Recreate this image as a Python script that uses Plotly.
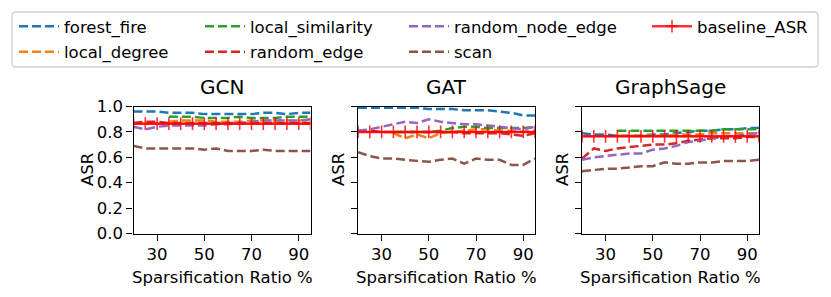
import plotly.graph_objects as go

# ---------------- data ----------------
ratios = [20, 25, 30, 35, 40, 45, 50, 55, 60, 65, 70, 75, 80, 85, 90, 95]
local_ratios = [35, 40, 45, 50, 55, 60, 65, 70, 75, 80, 85, 90, 95]
models = ["GCN", "GAT", "GraphSage"]

forest_fire = {
    "GCN": [0.96, 0.96, 0.96, 0.95, 0.95, 0.95, 0.94, 0.94, 0.94, 0.94, 0.94, 0.95, 0.95, 0.94, 0.95, 0.95],
    "GAT": [0.99, 0.99, 0.99, 0.99, 0.99, 0.99, 0.98, 0.98, 0.98, 0.97, 0.97, 0.97, 0.96, 0.95, 0.93, 0.93],
    "GraphSage": [0.79, 0.78, 0.78, 0.77, 0.77, 0.77, 0.78, 0.78, 0.79, 0.80, 0.81, 0.81, 0.82, 0.82, 0.83, 0.83],
}
local_degree = {
    "GCN": [0.88, 0.89, 0.89, 0.89, 0.88, 0.88, 0.88, 0.89, 0.89, 0.89, 0.89, 0.89, 0.89],
    "GAT": [0.79, 0.75, 0.78, 0.75, 0.79, 0.80, 0.81, 0.82, 0.82, 0.81, 0.81, 0.80, 0.81],
    "GraphSage": [0.77, 0.77, 0.77, 0.77, 0.77, 0.78, 0.78, 0.78, 0.79, 0.79, 0.79, 0.79, 0.79],
}
local_similarity = {
    "GCN": [0.92, 0.92, 0.92, 0.91, 0.91, 0.91, 0.92, 0.91, 0.91, 0.91, 0.92, 0.92, 0.92],
    "GAT": [0.80, 0.80, 0.80, 0.80, 0.81, 0.83, 0.84, 0.84, 0.83, 0.83, 0.83, 0.83, 0.84],
    "GraphSage": [0.81, 0.81, 0.81, 0.81, 0.81, 0.81, 0.81, 0.81, 0.81, 0.82, 0.82, 0.82, 0.82],
}
random_edge = {
    "GCN": [0.87, 0.88, 0.88, 0.87, 0.87, 0.87, 0.87, 0.87, 0.87, 0.87, 0.87, 0.87, 0.87, 0.87, 0.87, 0.87],
    "GAT": [0.81, 0.81, 0.80, 0.80, 0.80, 0.80, 0.80, 0.80, 0.80, 0.79, 0.79, 0.79, 0.79, 0.78, 0.77, 0.79],
    "GraphSage": [0.59, 0.67, 0.65, 0.67, 0.68, 0.69, 0.70, 0.70, 0.71, 0.73, 0.74, 0.75, 0.75, 0.75, 0.76, 0.76],
}
random_node_edge = {
    "GCN": [0.84, 0.82, 0.84, 0.85, 0.85, 0.85, 0.85, 0.86, 0.86, 0.87, 0.88, 0.89, 0.89, 0.89, 0.89, 0.90],
    "GAT": [0.81, 0.82, 0.84, 0.86, 0.88, 0.87, 0.90, 0.88, 0.87, 0.86, 0.86, 0.85, 0.84, 0.83, 0.82, 0.84],
    "GraphSage": [0.58, 0.60, 0.61, 0.62, 0.63, 0.63, 0.66, 0.67, 0.69, 0.72, 0.73, 0.75, 0.76, 0.77, 0.78, 0.79],
}
scan = {
    "GCN": [0.69, 0.67, 0.67, 0.67, 0.67, 0.67, 0.66, 0.67, 0.65, 0.65, 0.65, 0.66, 0.65, 0.65, 0.65, 0.65],
    "GAT": [0.64, 0.61, 0.59, 0.59, 0.58, 0.57, 0.565, 0.58, 0.59, 0.55, 0.59, 0.58, 0.58, 0.54, 0.54, 0.59],
    "GraphSage": [0.49, 0.50, 0.51, 0.51, 0.52, 0.53, 0.53, 0.56, 0.55, 0.55, 0.56, 0.56, 0.57, 0.57, 0.57, 0.58],
}
baseline_ASR = {
    "GCN": [0.865] * 16,
    "GAT": [0.80] * 16,
    "GraphSage": [0.765] * 16,
}

x_ticks = [30, 50, 70, 90]
y_ticks = [0.0, 0.2, 0.4, 0.6, 0.8, 1.0]
y_ticklabels = ["0.0", "0.2", "0.4", "0.6", "0.8", "1.0"]

series = [
    ("forest_fire", forest_fire, ratios, "#1f77b4", "legend"),
    ("local_degree", local_degree, local_ratios, "#ff7f0e", "legend"),
    ("local_similarity", local_similarity, local_ratios, "#2ca02c", "legend2"),
    ("random_edge", random_edge, ratios, "#d62728", "legend2"),
    ("random_node_edge", random_node_edge, ratios, "#9467bd", "legend3"),
    ("scan", scan, ratios, "#8c564b", "legend3"),
]

# ---------------- layout geometry (window pixels) ----------------
WIN_W, WIN_H = 831, 297
OFF = 8  # default page body margin around the plot div
W, H = WIN_W - OFF, WIN_H - OFF
FONT = "DejaVu Sans"
x_dom_px = [(133.5, 310.5), (358.0, 535.0), (582.0, 759.0)]
y_top_px, y_bot_px = 106.5, 233.5


def px_x(v):
    return (v - OFF) / W


def px_y(v):
    return 1 - (v - OFF) / H


fig = go.Figure()

for i, m in enumerate(models):
    ax = "" if i == 0 else str(i + 1)
    for name, data, xs, color, leg in series:
        fig.add_trace(go.Scatter(
            x=xs, y=data[m], mode="lines", name=name,
            line=dict(color=color, width=2.5, dash="9px,4px"),
            xaxis="x" + ax, yaxis="y" + ax,
            legend=leg, legendgroup=name, showlegend=(i == 0),
        ))
    fig.add_trace(go.Scatter(
        x=ratios, y=baseline_ASR[m], mode="lines+markers", name="baseline_ASR",
        line=dict(color="rgba(255,0,0,0.8)", width=2.5),
        marker=dict(symbol="cross-thin", size=9, line=dict(color="rgba(255,0,0,0.8)", width=1.6)),
        xaxis="x" + ax, yaxis="y" + ax,
        legend="legend4", legendgroup="baseline_ASR", showlegend=(i == 0),
    ))

axis_common = dict(showline=True, linecolor="black", linewidth=1.3, mirror=True,
                   ticks="outside", ticklen=6, tickwidth=1.3, tickcolor="black",
                   showgrid=False, zeroline=False,
                   tickfont=dict(family=FONT, size=16.5, color="black"))

layout = dict(
    width=W, height=H,
    margin=dict(l=0, r=0, t=0, b=0, autoexpand=False),
    paper_bgcolor="white", plot_bgcolor="white",
    font=dict(family=FONT, size=16.5, color="black"),
)

annotations = []
for i, m in enumerate(models):
    ax = "" if i == 0 else str(i + 1)
    x0, x1 = x_dom_px[i]
    layout["xaxis" + ax] = dict(axis_common, domain=[px_x(x0), px_x(x1)], range=[20, 95],
                                tickvals=x_ticks, anchor="y" + ax)
    layout["yaxis" + ax] = dict(axis_common, domain=[px_y(y_bot_px), px_y(y_top_px)], range=[0, 1],
                                tickvals=y_ticks, ticktext=y_ticklabels,
                                showticklabels=(i == 0), anchor="x" + ax)
    cx = (x0 + x1) / 2
    annotations.append(dict(text=m, x=px_x(cx), y=px_y(101), xref="paper", yref="paper",
                            xanchor="center", yanchor="bottom", showarrow=False,
                            font=dict(family=FONT, size=20, color="black")))
    annotations.append(dict(text="Sparsification Ratio %", x=px_x(cx), y=px_y(277),
                            xref="paper", yref="paper", xanchor="center", yanchor="middle",
                            showarrow=False, font=dict(family=FONT, size=16.5, color="black")))
    ylab_x = [87, 338, 562][i]
    annotations.append(dict(text="ASR", x=px_x(ylab_x), y=px_y((y_top_px + y_bot_px) / 2),
                            xref="paper", yref="paper", xanchor="center", yanchor="middle",
                            textangle=-90, showarrow=False,
                            font=dict(family=FONT, size=16.5, color="black")))
layout["annotations"] = annotations

# legends (4 columns, 2 rows, column-major like the reference)
leg_cols_px = [14, 200, 404, 647]
for j, key in enumerate(["legend", "legend2", "legend3", "legend4"]):
    layout[key] = dict(x=px_x(leg_cols_px[j]), y=px_y(9), xanchor="left", yanchor="top",
                       orientation="v", bgcolor="rgba(0,0,0,0)", borderwidth=0,
                       font=dict(family=FONT, size=16.5, color="black"),
                       traceorder="grouped", tracegroupgap=1, itemwidth=40)

# legend frame (rounded rectangle)
lx0, lx1, ly0, ly1, r = 12, 818, 12, 67, 4
path = (f"M {px_x(lx0 + r)},{px_y(ly0)} L {px_x(lx1 - r)},{px_y(ly0)} "
        f"Q {px_x(lx1)},{px_y(ly0)} {px_x(lx1)},{px_y(ly0 + r)} "
        f"L {px_x(lx1)},{px_y(ly1 - r)} Q {px_x(lx1)},{px_y(ly1)} {px_x(lx1 - r)},{px_y(ly1)} "
        f"L {px_x(lx0 + r)},{px_y(ly1)} Q {px_x(lx0)},{px_y(ly1)} {px_x(lx0)},{px_y(ly1 - r)} "
        f"L {px_x(lx0)},{px_y(ly0 + r)} Q {px_x(lx0)},{px_y(ly0)} {px_x(lx0 + r)},{px_y(ly0)} Z")
layout["shapes"] = [dict(type="path", path=path, xref="paper", yref="paper",
                         line=dict(color="#d0d0d0", width=1.3), fillcolor="rgba(0,0,0,0)")]

fig.update_layout(layout)
fig.write_html("out.html")
